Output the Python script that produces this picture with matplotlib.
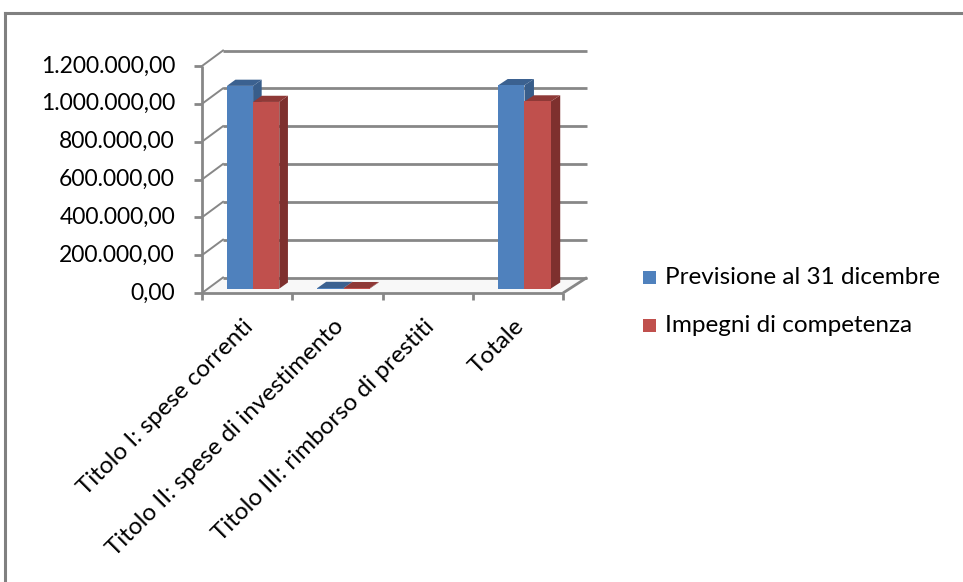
import matplotlib
matplotlib.use("Agg")
import matplotlib.pyplot as plt
from matplotlib.patches import Polygon, Rectangle
from matplotlib.lines import Line2D

# ---- data ----
categories = [
    "Titolo I: spese correnti",
    "Titolo II: spese di investimento",
    "Titolo III: rimborso di prestiti",
    "Totale",
]
previsione = [1072000, 3500, 0, 1075500]
impegni = [987000, 2500, 0, 989500]
series_names = ["Previsione al 31 dicembre", "Impegni di competenza"]
y_ticks = [0, 200000, 400000, 600000, 800000, 1000000, 1200000]
y_tick_labels = ["0,00", "200.000,00", "400.000,00", "600.000,00",
                 "800.000,00", "1.000.000,00", "1.200.000,00"]

# ---- styling ----
FONT = "Lato"
GRID = "#878787"
face_cols = ["#4F81BD", "#C0504D"]
side_cols = ["#385D8A", "#7E302E"]
top_cols = ["#3B6190", "#8F3937"]

W, H = 963, 582
fig = plt.figure(figsize=(W / 100, H / 100), dpi=100)
fig.patch.set_facecolor("white")

# front plane of the 3-D box, placed in figure pixels
x0, x1, yb, yt = 202, 563, 293, 66
ax = fig.add_axes([x0 / W, 1 - yb / H, (x1 - x0) / W, (yb - yt) / H])
ax.set_xlim(0, len(categories))
ax.set_ylim(0, y_ticks[-1])
ax.axis("off")

ppx = len(categories) / (x1 - x0)          # x data units per pixel
ppy = y_ticks[-1] / (yb - yt)              # y data units per pixel
DXL, DXR, DY = 21 * ppx, 24 * ppx, 15.5 * ppy


def dpt(x, y, f):
    """Shift a front-plane point back into the depth by fraction f."""
    n = len(categories)
    return x + f * (DXL + (DXR - DXL) * x / n), y + f * DY


n = len(categories)
kw = dict(color=GRID, lw=2.0, clip_on=False, solid_capstyle="butt")

# floor
fl = [dpt(0, 0, 0), dpt(n, 0, 0), dpt(n, 0, 1), dpt(0, 0, 1)]
ax.add_patch(Polygon(fl, closed=True, fc="#F8F8F8", ec="none", clip_on=False, zorder=0))

# back wall gridlines and side-wall diagonals
for v in y_ticks:
    bx0, by = dpt(0, v, 1)
    bx1, _ = dpt(n, v, 1)
    ax.plot([bx0, bx1], [by, by], zorder=1, **kw)
    ax.plot([0, bx0], [v, by], zorder=1, color=GRID, lw=1.4, clip_on=False)
    # outward tick stub on the value axis
    ax.plot([-8 * ppx, 0], [v, v], zorder=3, **kw)

# right edge of the floor
rx, ry = dpt(n, 0, 1)
ax.plot([n, rx], [0, ry], zorder=1, **kw)

# value axis and category axis on the front plane
ax.plot([0, 0], [0, y_ticks[-1]], zorder=3, **kw)
ax.plot([0, n], [0, 0], zorder=3, **kw)
for i in range(n + 1):
    ax.plot([i, i], [0, -7 * ppy], zorder=3, **kw)

# 3-D bars (zero values are not drawn)
f0, f1 = 0.28, 0.68
bw = 0.29
for i in range(n):
    cx, base = dpt(i + 0.5, 0, f0)
    for s, vals in enumerate([previsione, impegni]):
        v = vals[i]
        if v <= 0:
            continue
        left = cx - bw + s * bw
        right = left + bw
        top = base + v
        z = 5 + s
        # right side
        side = [(right, base), dpt(right, base, f1 - f0), dpt(right, top, f1 - f0), (right, top)]
        ax.add_patch(Polygon(side, closed=True, fc=side_cols[s], ec="none", clip_on=False, zorder=z))
        # top
        tp = [(left, top), (right, top), dpt(right, top, f1 - f0), dpt(left, top, f1 - f0)]
        ax.add_patch(Polygon(tp, closed=True, fc=top_cols[s], ec="none", clip_on=False, zorder=z))
        # front
        ax.add_patch(Polygon([(left, base), (right, base), (right, top), (left, top)],
                             closed=True, fc=face_cols[s], ec="none", clip_on=False, zorder=z))

# value tick labels
for v, lab in zip(y_ticks, y_tick_labels):
    ax.text(-27 * ppx, v, lab, ha="right", va="center", fontsize=16.5,
            family=FONT, color="black", clip_on=False)

# category labels, rotated
for i, lab in enumerate(categories):
    ax.text(i + 0.5 + 3 * ppx, -30 * ppy, lab, ha="right", va="center", rotation=45,
            rotation_mode="anchor", fontsize=17.5, family=FONT, color="black", clip_on=False)

# legend: colour squares and labels
for s, name in enumerate(series_names):
    cy = 277 + 48 * s
    fig.add_artist(Rectangle((643 / W, 1 - (cy + 6.5) / H), 13 / W, 13 / H,
                             transform=fig.transFigure, fc=face_cols[s], ec="none"))
    fig.text(665 / W, 1 - cy / H, name, ha="left", va="center", fontsize=17.5,
             family=FONT, color="black")

# chart-area border (left and top edges)
fig.add_artist(Line2D([4.5 / W, 4.5 / W], [0, 1 - 13 / H], color="#808080", lw=2.2))
fig.add_artist(Line2D([4.5 / W, 1], [1 - 13 / H, 1 - 13 / H], color="#808080", lw=2.2))

fig.savefig("out.png", dpi=100, facecolor="white")
